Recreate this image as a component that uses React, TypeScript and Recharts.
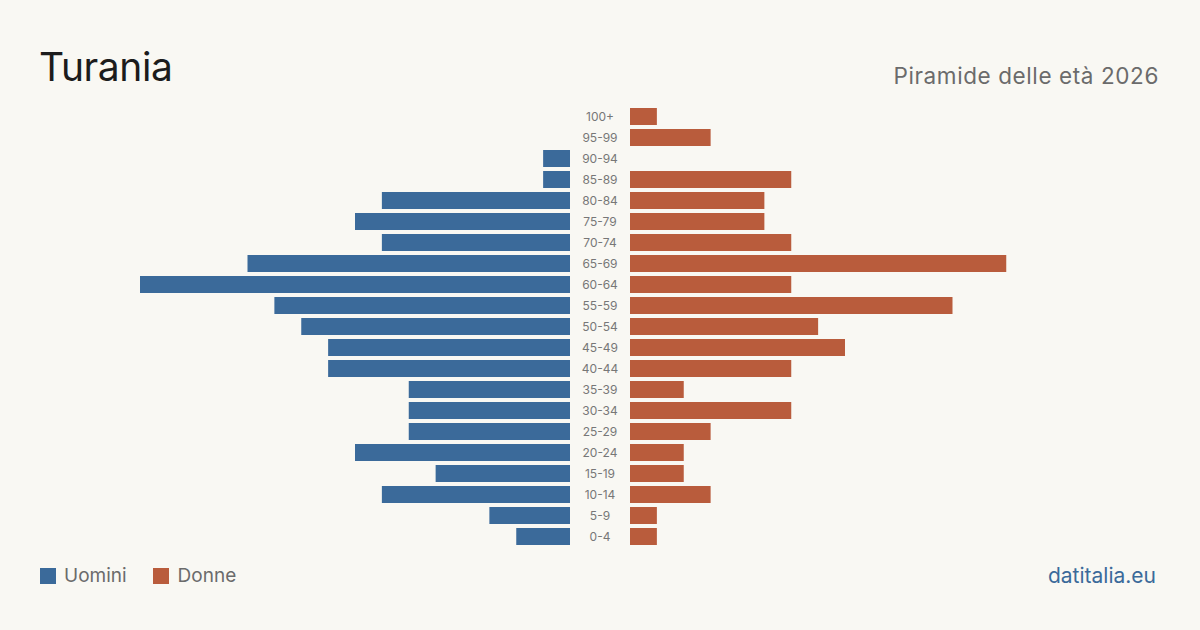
import React from "react";
import { BarChart, Bar, XAxis, YAxis } from "recharts";

// Age classes, from the oldest (top) to the youngest (bottom)
const ages = [
  "100+", "95-99", "90-94", "85-89", "80-84", "75-79", "70-74", "65-69",
  "60-64", "55-59", "50-54", "45-49", "40-44", "35-39", "30-34", "25-29",
  "20-24", "15-19", "10-14", "5-9", "0-4",
];
const men = [0, 0, 1, 1, 7, 8, 7, 12, 16, 11, 10, 9, 9, 6, 6, 6, 8, 5, 7, 3, 2];
const women = [1, 3, 0, 6, 5, 5, 6, 14, 6, 12, 7, 8, 6, 2, 6, 3, 2, 2, 3, 1, 1];

const maxValue = 16;

const BLUE = "#3b6a9a";
const ORANGE = "#b95c3c";
const BG = "#f9f8f3";
const FONT = "Inter, 'Noto Sans', sans-serif";

const rows = ages.map((age, i) => ({ age, men: men[i], women: women[i] }));

const AgeTick = (props: any) => {
  const { y, payload } = props;
  return (
    <text
      x={30}
      y={y}
      dy={4}
      textAnchor="middle"
      fill="#777"
      fontSize={12}
      fontFamily={FONT}
    >
      {payload.value}
    </text>
  );
};

export default function App() {
  return (
    <div
      style={{
        position: "absolute",
        left: 0,
        top: 0,
        width: 1200,
        height: 630,
        background: BG,
        fontFamily: FONT,
        overflow: "hidden",
      }}
    >
      <div
        style={{
          position: "absolute",
          left: 39,
          top: 43,
          fontSize: 39,
          letterSpacing: -0.4,
          color: "#1c1c1c",
          lineHeight: "48px",
        }}
      >
        Turania
      </div>
      <div
        style={{
          position: "absolute",
          right: 41,
          top: 62,
          fontSize: 22.5,
          letterSpacing: 0.6,
          color: "#6b6b6b",
          lineHeight: "28px",
        }}
      >
        Piramide delle età 2026
      </div>

      {/* Men: bars grow leftwards */}
      <div style={{ position: "absolute", left: 140, top: 106 }}>
        <BarChart
          width={430}
          height={441}
          data={rows}
          layout="vertical"
          margin={{ top: 0, right: 0, bottom: 0, left: 0 }}
        >
          <XAxis type="number" domain={[0, maxValue]} reversed hide />
          <YAxis type="category" dataKey="age" hide />
          <Bar dataKey="men" fill={BLUE} barSize={17} isAnimationActive={false} />
        </BarChart>
      </div>

      {/* Women: bars grow rightwards, age labels in the gap */}
      <div style={{ position: "absolute", left: 570, top: 106 }}>
        <BarChart
          width={490}
          height={441}
          data={rows}
          layout="vertical"
          margin={{ top: 0, right: 0, bottom: 0, left: 0 }}
        >
          <XAxis type="number" domain={[0, maxValue]} hide />
          <YAxis
            type="category"
            dataKey="age"
            width={60}
            axisLine={false}
            tickLine={false}
            tick={<AgeTick />}
            interval={0}
          />
          <Bar dataKey="women" fill={ORANGE} barSize={17} isAnimationActive={false} />
        </BarChart>
      </div>

      {/* Legend */}
      <div
        style={{
          position: "absolute",
          left: 40,
          top: 564,
          display: "flex",
          alignItems: "center",
          fontSize: 19,
          color: "#6b6b6b",
          lineHeight: "24px",
        }}
      >
        <span style={{ width: 16, height: 16, background: BLUE, display: "inline-block" }} />
        <span style={{ marginLeft: 8 }}>Uomini</span>
        <span
          style={{
            width: 16,
            height: 16,
            background: ORANGE,
            display: "inline-block",
            marginLeft: 26,
          }}
        />
        <span style={{ marginLeft: 9 }}>Donne</span>
      </div>

      <div
        style={{
          position: "absolute",
          right: 44,
          top: 563,
          fontSize: 21,
          color: BLUE,
          lineHeight: "26px",
        }}
      >
        datitalia.eu
      </div>
    </div>
  );
}
